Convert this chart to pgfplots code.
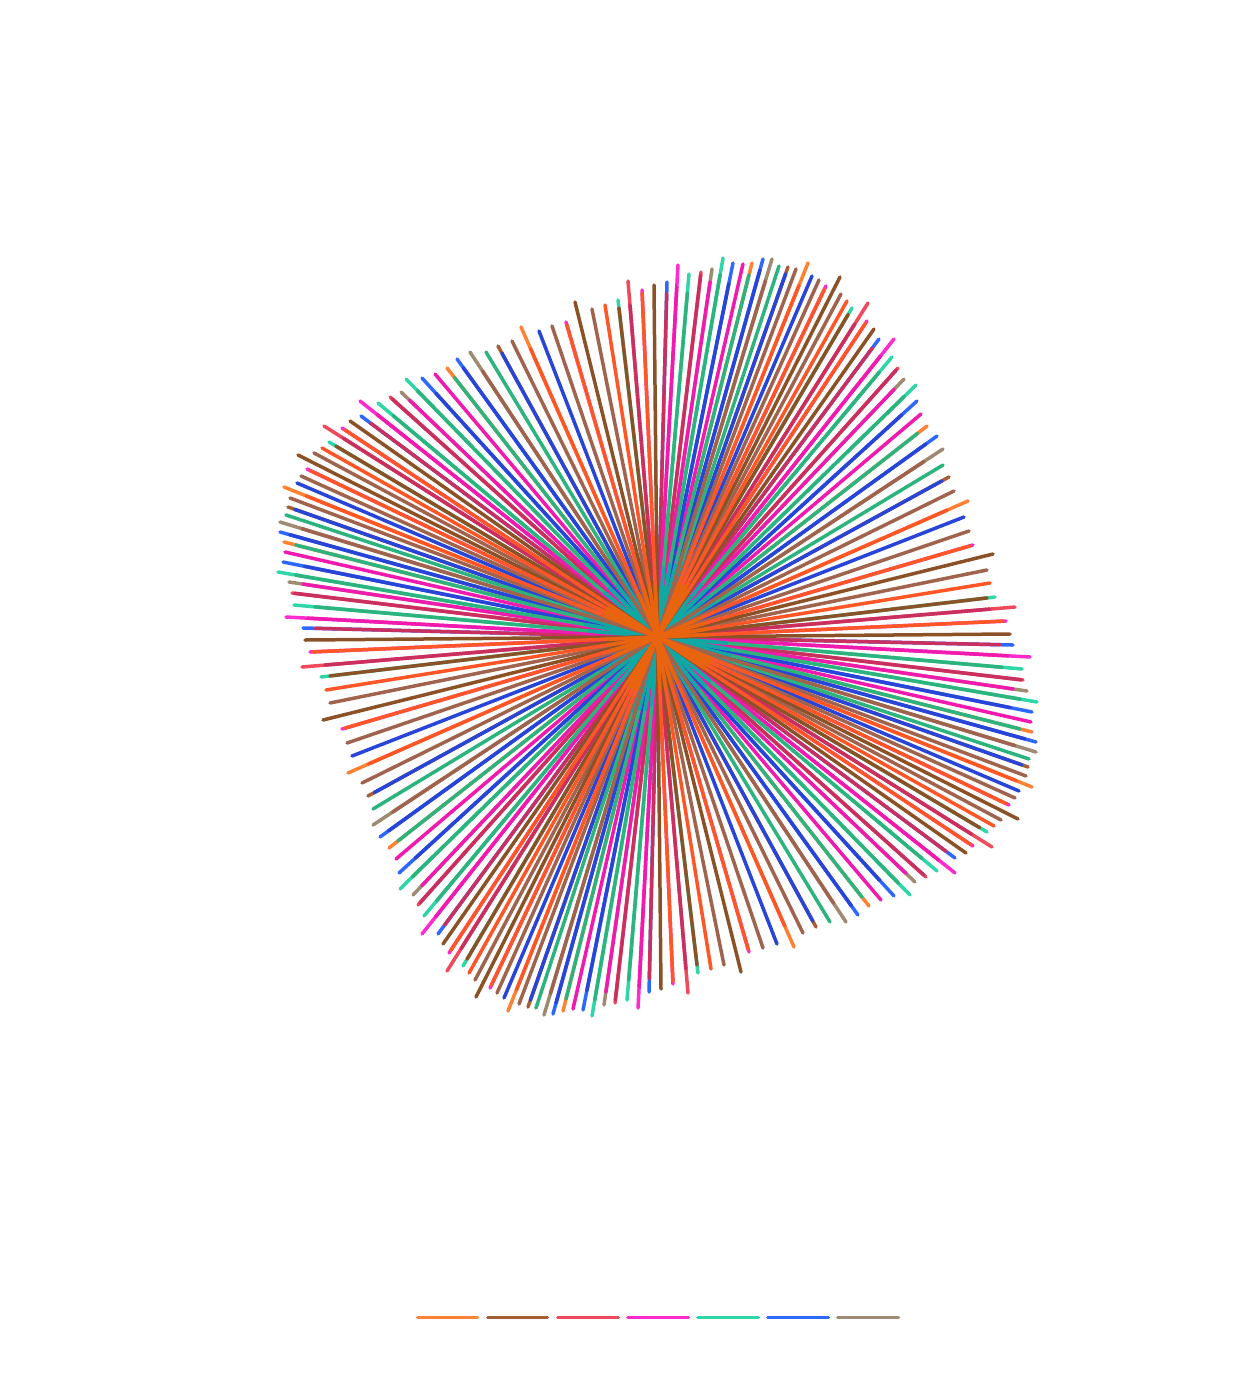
\documentclass[border=0pt]{standalone}
\usepackage{pgfplots}
\usepackage{pgfplotstable}
\pgfplotsset{compat=1.18}
\definecolor{cOrange}{HTML}{FF8133}
\definecolor{cBrown}{HTML}{A65E35}
\definecolor{cRed}{HTML}{F0495B}
\definecolor{cMagenta}{HTML}{FF2BCF}
\definecolor{cTeal}{HTML}{2FD6A8}
\definecolor{cBlue}{HTML}{2F68FF}
\definecolor{cTaupe}{HTML}{A08A72}
% colours where two series lie on top of each other
\definecolor{mCrimson}{HTML}{C93060}
\definecolor{mMagenta}{HTML}{F01AAE}
\definecolor{mGreen}{HTML}{2DB37D}
\definecolor{mBlue}{HTML}{2845D8}
\definecolor{mBrown}{HTML}{8A5226}
\definecolor{mRust}{HTML}{A0644E}
\definecolor{mOrange}{HTML}{FF5628}
% and where many of them meet near the centre
\definecolor{kTeal}{HTML}{10A8A4}
\definecolor{kOrange}{HTML}{E8640E}
% tx ty = where the spoke ends, x y = where the overlap with the second series ends (picture pixels)
\pgfplotstableread{
x y tx ty
1013 645 1013 645
955 858 955 858
649 992 649 992
438 934 438 934
303 628 303 628
361 416 361 416
667 282 667 282
879 339 879 339
1032 712 1032 712
894 896 894 896
583 1010 583 1010
399 873 399 873
283 562 283 562
422 378 422 378
733 263 733 263
917 401 917 401
1036 742 1036 742
858 915 858 915
553 1014 553 1014
380 837 380 837
280 532 280 532
457 359 457 359
763 259 763 259
937 436 937 436
}\tipBlue
\pgfplotstableread{
x y tx ty
1030 657 1030 657
955 873 955 873
638 1008 638 1008
422 934 422 934
286 617 286 617
360 401 360 401
678 265 678 265
894 339 894 339
1009 805 1009 805
749 952 749 952
490 988 490 988
342 729 342 729
307 469 307 469
566 322 566 322
826 286 826 286
973 545 973 545
973 846 973 846
673 984 673 984
449 953 449 953
310 652 310 652
342 428 342 428
642 290 642 290
867 321 867 321
1006 621 1006 621
}\tipMagenta
\pgfplotstableread{
x y tx ty
1022 669 1022 669
937 871 937 871
627 1000 627 1000
424 916 424 916
294 605 294 605
378 403 378 403
689 274 689 274
892 357 892 357
1037 702 1037 702
910 895 910 895
592 1016 592 1016
400 889 400 889
278 572 278 572
406 379 406 379
723 258 723 258
916 385 916 385
987 832 987 832
698 973 698 973
463 966 463 966
321 677 321 677
329 442 329 442
618 300 618 300
852 308 852 308
995 597 995 597
}\tipTeal
\pgfplotstableread{
x y tx ty
1027 691 1027 691
915 882 915 882
604 1005 604 1005
413 895 413 895
289 582 289 582
401 392 401 392
712 269 712 269
904 379 904 379
1036 752 1036 752
846 922 846 922
544 1015 544 1015
373 825 373 825
280 522 280 522
470 352 470 352
772 259 772 259
943 449 943 449
}\tipTaupe
\pgfplotstableread{
x y tx ty
1032 732 1032 732
869 906 869 906
563 1011 563 1011
389 848 389 848
284 542 284 542
447 368 447 368
752 263 752 263
927 426 927 426
1032 787 1032 787
794 947 794 947
508 1011 508 1011
348 773 348 773
284 487 284 487
521 327 521 327
808 263 808 263
968 501 968 501
}\tipOrange
\pgfplotstableread{
x y tx ty
1028 767 1028 767
816 927 816 927
528 1007 528 1007
368 796 368 796
288 507 288 507
498 346 498 346
788 267 788 267
949 477 949 477
}\tipBrown
\pgfplotstableread{
x y tx ty
992 847 992 847
688 993 688 993
447 971 447 971
302 667 302 667
324 426 324 426
628 281 628 281
868 303 868 303
1015 607 1015 607
1023 680 1023 680
926 877 926 877
615 1003 615 1003
418 905 418 905
292 593 292 593
390 397 390 397
701 272 701 272
898 368 898 368
}\tipRed
\pgfplotstableread{
x y tx ty
1015 745 1036 752
835 902 846 922
549 993 544 1015
393 813 373 825
302 528 280 522
481 372 470 352
766 281 772 259
923 460 943 449
1026 776 1026 776
803 933 803 933
519 1004 519 1004
362 783 362 783
290 498 290 498
512 341 512 341
796 269 796 269
954 491 954 491
1015 798 1015 798
763 948 763 948
497 993 497 993
347 743 347 743
301 476 301 476
552 326 552 326
819 280 819 280
969 531 969 531
1001 820 1001 820
724 965 724 965
475 980 475 980
330 703 330 703
314 453 314 453
592 309 592 309
841 294 841 294
987 570 987 570
}\midRust
\pgfplotstableread{
x y tx ty
1010 634 1010 634
966 853 966 853
661 989 661 989
443 944 443 944
305 640 305 640
350 421 350 421
654 285 654 285
874 329 874 329
1018 819 1018 819
741 972 741 972
476 997 476 997
323 720 323 720
298 455 298 455
575 302 575 302
840 277 840 277
993 554 993 554
980 827 987 832
697 965 698 973
467 959 463 966
330 676 321 677
336 446 329 442
619 308 618 300
849 315 852 308
987 598 995 597
}\midBrown
\pgfplotstableread{
x y tx ty
1002 669 1022 669
923 857 937 871
626 980 627 1000
438 902 424 916
315 605 294 605
392 417 378 403
690 293 689 274
878 371 892 357
1020 701 1037 702
900 882 910 895
594 1000 592 1016
413 878 400 889
296 573 278 572
416 392 406 379
722 275 723 258
903 395 916 385
1020 728 1032 732
862 897 869 906
566 999 563 1011
398 841 389 848
296 544 284 542
454 378 447 368
750 275 752 263
917 433 927 426
1029 759 1029 759
830 922 830 922
536 1008 536 1008
373 809 373 809
286 515 286 515
486 352 486 352
779 266 779 266
943 465 943 465
}\midGreen
\pgfplotstableread{
x y tx ty
1010 709 1032 712
882 878 894 896
585 990 583 1010
417 860 399 873
305 564 283 562
434 395 422 378
731 284 733 263
900 413 917 401
1025 738 1036 742
852 905 858 915
556 1003 553 1014
388 830 380 837
290 534 280 532
463 368 457 359
760 270 763 259
925 443 937 436
1022 764 1028 767
813 921 816 927
530 1000 528 1007
374 792 368 796
295 509 288 507
502 353 498 346
786 274 788 267
942 481 949 477
1019 791 1019 791
777 944 777 944
504 998 504 998
352 756 352 756
297 483 297 483
539 331 539 331
812 276 812 276
964 517 964 517
}\midBlue
\pgfplotstableread{
x y tx ty
1000 646 1013 645
947 850 955 858
648 979 649 992
445 925 438 934
315 628 303 628
370 424 361 416
667 294 667 282
872 348 879 339
1021 680 1023 680
924 875 926 877
615 1000 615 1003
420 903 418 905
295 593 292 593
392 399 390 397
701 275 701 272
896 370 898 368
973 832 992 847
683 969 688 993
463 950 447 971
325 663 302 667
343 439 324 426
632 305 628 281
853 323 868 303
990 611 1015 607
}\midCrimson
\pgfplotstableread{
x y tx ty
1008 658 1030 657
940 858 955 873
637 987 638 1008
437 918 422 934
308 616 286 617
377 415 360 401
678 287 678 265
879 355 894 339
1013 690 1027 691
907 872 915 882
605 992 604 1005
422 886 413 895
303 584 289 582
408 402 401 392
710 282 712 269
893 388 904 379
1031 722 1031 722
881 900 881 900
573 1009 573 1009
396 859 396 859
285 552 285 552
435 374 435 374
743 264 743 264
921 414 921 414
}\midMagenta
\pgfplotstableread{
x y tx ty
1017 779 1032 787
785 926 794 947
517 990 508 1011
368 763 348 773
306 496 284 487
532 348 521 327
798 285 808 263
947 510 968 501
1006 803 1009 805
748 949 749 952
492 985 490 988
345 728 342 729
310 471 307 469
567 325 566 322
824 289 826 286
970 546 973 545
994 826 994 826
711 969 711 969
469 973 469 973
326 690 326 690
322 448 322 448
605 305 605 305
847 301 847 301
990 583 990 583
971 844 973 846
673 981 673 984
451 950 449 953
313 652 310 652
345 430 342 428
643 293 642 290
865 323 867 321
1003 621 1006 621
}\midOrange
% every spoke runs from the centre (657.5,637) along the direction of its end point
\pgfplotsset{spoke/.style={line width=1.75pt, line cap=round, -,
    quiver={
      u={#1*veclen(\thisrow{x}-657.5,\thisrow{y}-637)/veclen(\thisrow{tx}-657.5,\thisrow{ty}-637)*(\thisrow{tx}-657.5)},
      v={#1*veclen(\thisrow{x}-657.5,\thisrow{y}-637)/veclen(\thisrow{tx}-657.5,\thisrow{ty}-637)*(\thisrow{ty}-637)}}},
  spoke/.default=1,
  key/.style={no marks, line width=1.5pt, line cap=round}}
\newcommand{\spokes}[2]{\addplot[spoke, color=#1] table[x expr=657.5, y expr=637] {#2};}
\newcommand{\core}[3]{\addplot[spoke=#3, color=#1] table[x expr=657.5, y expr=637] {#2};}
\begin{document}
\begin{tikzpicture}
\begin{axis}[
  width=626pt, height=699pt, scale only axis,
  xmin=0, xmax=1252, ymin=0, ymax=1398, y dir=reverse,
  axis line style={draw=none}, xtick=\empty, ytick=\empty, clip=false
  ]
% outer ends
\spokes{cBlue}{\tipBlue}
\spokes{cMagenta}{\tipMagenta}
\spokes{cTeal}{\tipTeal}
\spokes{cTaupe}{\tipTaupe}
\spokes{cOrange}{\tipOrange}
\spokes{cBrown}{\tipBrown}
\spokes{cRed}{\tipRed}
% inner parts, where two series overlap
\spokes{mCrimson}{\midCrimson}
\spokes{mMagenta}{\midMagenta}
\spokes{mBlue}{\midBlue}
\spokes{mGreen}{\midGreen}
\core{kTeal}{\midGreen}{0.2}
\spokes{mRust}{\midRust}
\spokes{mBrown}{\midBrown}
\spokes{mOrange}{\midOrange}
\core{kOrange}{\midOrange}{0.15}
% legend keys (the legend has no text)
\addplot[key, color=cOrange] coordinates {(417.5,1317)(477.5,1317)};
\addplot[key, color=cBrown] coordinates {(487.5,1317)(547.5,1317)};
\addplot[key, color=cRed] coordinates {(557.5,1317)(618.5,1317)};
\addplot[key, color=cMagenta] coordinates {(627.5,1317)(688.5,1317)};
\addplot[key, color=cTeal] coordinates {(697.5,1317)(758.5,1317)};
\addplot[key, color=cBlue] coordinates {(767.5,1317)(828.5,1317)};
\addplot[key, color=cTaupe] coordinates {(837.5,1317)(898.5,1317)};
\end{axis}
\end{tikzpicture}
\end{document}
